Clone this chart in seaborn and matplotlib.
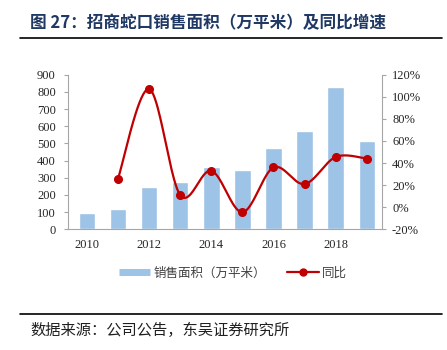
import numpy as np
import matplotlib
matplotlib.use("Agg")
import matplotlib.pyplot as plt
import matplotlib.ticker as mticker
from matplotlib.lines import Line2D
import seaborn as sns

years = ["2010", "2011", "2012", "2013", "2014", "2015", "2016", "2017", "2018", "2019"]
sales_area = [95, 120, 248, 275, 362, 346, 471, 572, 830, 516]
yoy_years = ["2011", "2012", "2013", "2014", "2015", "2016", "2017", "2018", "2019"]
yoy_pct = [26, 107, 11, 33, -4.5, 36, 21, 45.5, 44]

title = "图 27：招商蛇口销售面积（万平米）及同比增速"
source = "数据来源：公司公告，东吴证券研究所"
bar_label = "销售面积（万平米）"
line_label = "同比"

BAR_COLOR = "#9DC3E6"
LINE_COLOR = "#C00000"
SPINE_COLOR = "#A6A6A6"
CJK = ["Noto Sans CJK SC", "DejaVu Sans"]

sns.set_style("white")
plt.rcParams["font.family"] = ["Liberation Serif", "Noto Sans CJK SC"]


def smooth_path(xs, ys, n=40):
    # bezier smoothing like office charts (catmull-rom style tangents)
    pts = np.column_stack([xs, ys]).astype(float)
    out = []
    for i in range(len(pts) - 1):
        p0 = pts[i - 1] if i > 0 else pts[i]
        p1, p2 = pts[i], pts[i + 1]
        p3 = pts[i + 2] if i + 2 < len(pts) else pts[i + 1]
        c1 = p1 + (p2 - p0) / 6
        c2 = p2 - (p3 - p1) / 6
        t = np.linspace(0, 1, n)[:, None]
        seg = (1 - t) ** 3 * p1 + 3 * (1 - t) ** 2 * t * c1 + 3 * (1 - t) * t ** 2 * c2 + t ** 3 * p2
        out.append(seg if i == 0 else seg[1:])
    path = np.vstack(out)
    return path[:, 0], path[:, 1]


fig = plt.figure(figsize=(4.47, 3.5), dpi=100)
ax = fig.add_axes([68.3 / 447, 1 - 229.3 / 350, (382.3 - 68.3) / 447, (229.3 - 74.7) / 350])

sns.barplot(x=years, y=sales_area, color=BAR_COLOR, width=0.53, saturation=1, ax=ax)
ax.set_xlim(-0.6, 9.5)
ax.set_ylim(0, 900)
ax.yaxis.set_major_locator(mticker.MultipleLocator(100))
ax.set_xticks(range(0, len(years), 2))
ax.set_xticklabels(years[::2])
ax.set_xlabel("")
ax.set_ylabel("")
ax.tick_params(axis="x", length=0, pad=7, labelsize=9)
ax.tick_params(axis="y", length=3, color=SPINE_COLOR, pad=6, labelsize=9)

ax2 = ax.twinx()
xpos = [years.index(y) for y in yoy_years]
sx, sy = smooth_path(xpos, yoy_pct)
ax2.plot(sx, sy, color=LINE_COLOR, lw=1.6)
ax2.plot(xpos, yoy_pct, "o", color=LINE_COLOR, markersize=5.5)
ax2.set_ylim(-20, 120)
ax2.yaxis.set_major_locator(mticker.MultipleLocator(20))
ax2.yaxis.set_major_formatter(mticker.FuncFormatter(lambda v, _: f"{v:.0f}%"))
ax2.tick_params(axis="y", length=3, color=SPINE_COLOR, pad=4, labelsize=9)

for a in (ax, ax2):
    a.spines["top"].set_visible(False)
    for s in ("left", "right", "bottom"):
        a.spines[s].set_color(SPINE_COLOR)
        a.spines[s].set_linewidth(0.8)
ax.spines["right"].set_visible(False)
ax2.spines["left"].set_visible(False)
ax2.spines["bottom"].set_visible(False)

handles = [
    Line2D([], [], color=BAR_COLOR, lw=5, solid_capstyle="butt"),
    Line2D([], [], color=LINE_COLOR, lw=1.6, marker="o", markersize=5),
]
fig.legend(handles, [bar_label, line_label], loc="center", ncol=2,
           bbox_to_anchor=(233 / 447, 1 - 273 / 350), frameon=False,
           prop={"family": CJK, "size": 9}, labelcolor="#404040",
           handlelength=2.5, handletextpad=0.3, columnspacing=1.7)

fig.text(30 / 447, 1 - 23 / 350, title, family=CJK, fontsize=12, fontweight="bold",
         color="#203864", va="center", ha="left")
fig.add_artist(Line2D([20 / 447, 442 / 447], [1 - 38.3 / 350] * 2, color="black", lw=1.2))
fig.add_artist(Line2D([20 / 447, 442 / 447], [1 - 314 / 350] * 2, color="black", lw=1.2))
fig.text(30 / 447, 1 - 330 / 350, source, family=CJK, fontsize=11, color="#202020",
         va="center", ha="left")

fig.savefig("out.png", dpi=100)
plt.close(fig)
